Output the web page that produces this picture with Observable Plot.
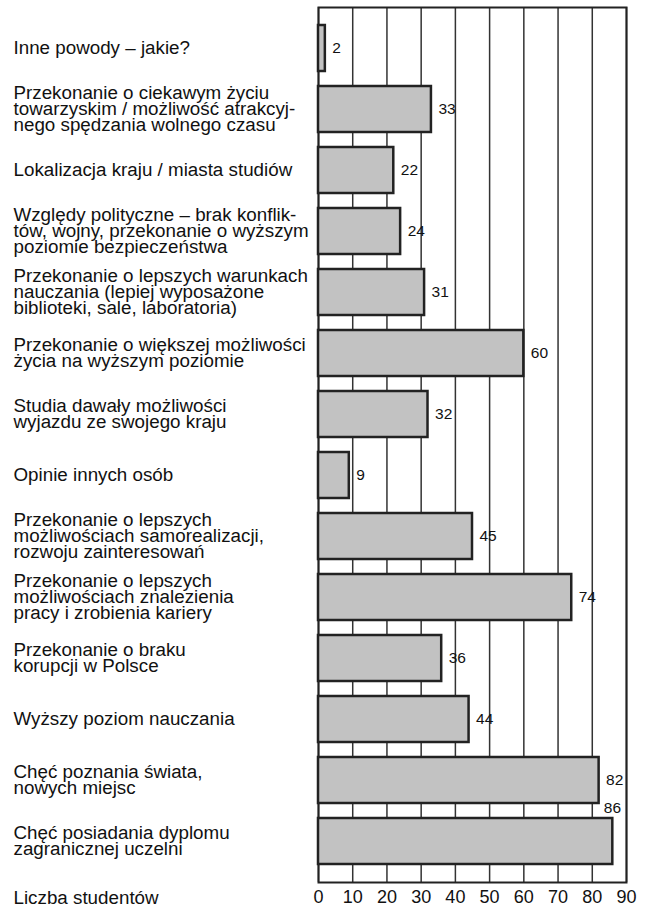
<!DOCTYPE html>
<html>
<head>
<meta charset="utf-8">
<script src="https://cdn.jsdelivr.net/npm/d3@7"></script>
<script src="https://cdn.jsdelivr.net/npm/@observablehq/plot@0.6"></script>
<style>
  html, body { margin: 0; padding: 0; background: #fff; }
  #chart svg { display: block; font-family: "Liberation Sans", Arial, sans-serif; }
</style>
</head>
<body>
<div id="chart"></div>
<script>
const categories = [
  "Inne powody – jakie?",
  "Przekonanie o ciekawym życiu\ntowarzyskim / możliwość atrakcyj-\nnego spędzania wolnego czasu",
  "Lokalizacja kraju / miasta studiów",
  "Względy polityczne – brak konflik-\ntów, wojny, przekonanie o wyższym\npoziomie bezpieczeństwa",
  "Przekonanie o lepszych warunkach\nnauczania (lepiej wyposażone\nbiblioteki, sale, laboratoria)",
  "Przekonanie o większej możliwości\nżycia na wyższym poziomie",
  "Studia dawały możliwości\nwyjazdu ze swojego kraju",
  "Opinie innych osób",
  "Przekonanie o lepszych\nmożliwościach samorealizacji,\nrozwoju zainteresowań",
  "Przekonanie o lepszych\nmożliwościach znalezienia\npracy i zrobienia kariery",
  "Przekonanie o braku\nkorupcji w Polsce",
  "Wyższy poziom nauczania",
  "Chęć poznania świata,\nnowych miejsc",
  "Chęć posiadania dyplomu\nzagranicznej uczelni"
];
const values = [2, 33, 22, 24, 31, 60, 32, 9, 45, 74, 36, 44, 82, 86];
const xTicks = [0, 10, 20, 30, 40, 50, 60, 70, 80, 90];
const axisTitle = "Liczba studentów";

const data = categories.map((c, i) => ({category: c, value: values[i]}));
const maxValue = d3.max(values);

const chart = Plot.plot({
  width: 653,
  height: 907,
  marginLeft: 318,
  marginRight: 27,
  marginTop: 7,
  marginBottom: 25,
  style: {fontFamily: "'Liberation Sans', Arial, sans-serif", fontSize: "18px", color: "#111"},
  x: {domain: [0, 90], ticks: xTicks},
  y: {domain: categories, paddingInner: 0.25, paddingOuter: 0.25},
  marks: [
    Plot.gridX(xTicks, {stroke: "#333", strokeOpacity: 1, strokeWidth: 1.5}),
    Plot.frame({stroke: "#222", strokeWidth: 2}),
    Plot.barX(data, {x: "value", y: "category", fill: "#c2c2c2", stroke: "#222", strokeWidth: 2.5}),
    Plot.text(data.filter(d => d.value !== maxValue), {x: "value", y: "category", text: d => String(d.value), textAnchor: "start", dx: 7, fontSize: 15.5, fill: "#111"}),
    Plot.text(data.filter(d => d.value === maxValue), {x: "value", y: "category", text: d => String(d.value), textAnchor: "start", dx: -9, dy: -33, fontSize: 15.5, fill: "#111"}),
    Plot.axisX(xTicks, {tickSize: 0, tickPadding: 8, fontSize: 18, label: null, fill: "#111"}),
    Plot.axisY({tickSize: 0, tickPadding: 0, textAnchor: "start", dx: -305, fontSize: 18.8, lineHeight: 0.86, label: null, fill: "#111"}),
    Plot.text([axisTitle], {frameAnchor: "bottom-left", dx: -305, dy: 8, lineAnchor: "top", textAnchor: "start", fontSize: 18.8, fill: "#111"})
  ]
});
document.getElementById("chart").appendChild(chart);
</script>
</body>
</html>
